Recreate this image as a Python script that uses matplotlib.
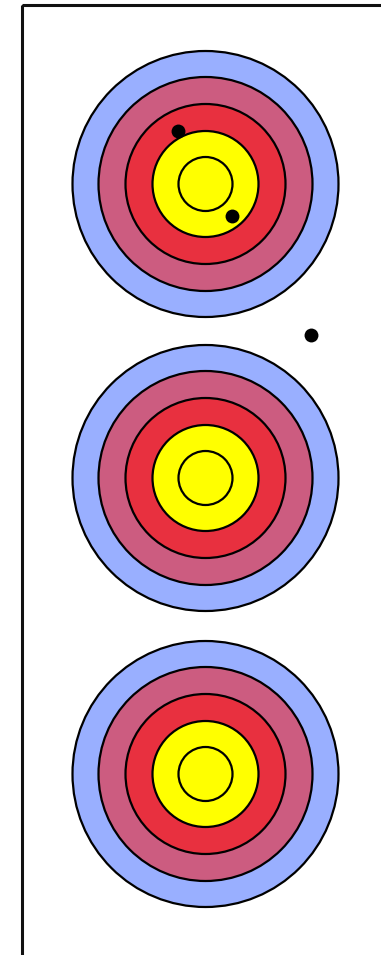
import matplotlib

matplotlib.use("Agg")
import matplotlib.pyplot as plt
from matplotlib.patches import Circle, Rectangle

# Target faces (pixel-space centres, y grows downward)
TARGET_CENTERS = [(205.5, 184), (205.5, 478), (205.5, 774)]
# Ring radii from outside in, and fill colours
RING_RADII = [133, 107, 80, 53, 27]
RING_COLORS = ["#99afff", "#cc5c80", "#e8303f", "#ffff00", "#ffff00"]
# Arrow hits
HIT_X = [178, 232, 311]
HIT_Y = [131, 216, 335]

W, H = 381, 955


def main() -> None:
    fig = plt.figure(figsize=(W / 100, H / 100), dpi=100)
    ax = fig.add_axes([0, 0, 1, 1])
    ax.set_xlim(0, W)
    ax.set_ylim(H, 0)
    ax.set_aspect("equal")
    ax.axis("off")

    # sheet border, runs off the right and bottom edges
    ax.add_patch(Rectangle((22, 5), W + 50, H + 50, fill=False, ec="#111111", lw=2.2, zorder=1))

    for cx, cy in TARGET_CENTERS:
        for r, c in zip(RING_RADII, RING_COLORS):
            ax.add_patch(Circle((cx, cy), r, fc=c, ec="black", lw=1.6, zorder=2))

    ax.scatter(HIT_X, HIT_Y, s=100, c="black", zorder=3, linewidths=0)

    fig.savefig("out.png", dpi=100)
    plt.close(fig)


if __name__ == "__main__":
    main()
